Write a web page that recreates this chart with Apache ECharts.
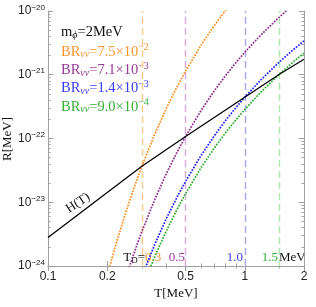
<!DOCTYPE html>
<html><head><meta charset="utf-8">
<script src="https://cdn.jsdelivr.net/npm/echarts@6/dist/echarts.min.js"></script>
<style>html,body{margin:0;padding:0;background:#fff}#c{width:316px;height:307px}</style>
</head><body><div id="c"></div>
<script>
// ---- data ----
const T_H = [0.1, 0.2, 0.3, 0.5, 1.0, 1.5, 2.0];
const R_H = [2.8e-24, 1.42e-23, 3.68e-23, 1.076e-22, 4.44e-22, 1.02e-21, 1.75e-21];

const T_orange = [0.2, 0.22, 0.25, 0.28, 0.3, 0.35, 0.4, 0.45, 0.5, 0.6, 0.7, 0.8, 0.9];
const R_orange = [7.16e-25, 2.04e-24, 7.38e-24, 2.06e-23, 3.68e-23, 1.20e-22, 3.00e-22, 6.24e-22, 1.14e-21, 2.92e-21, 5.92e-21, 1.03e-20, 1.63e-20];

const T_purple = [0.25, 0.28, 0.3, 0.35, 0.4, 0.45, 0.5, 0.6, 0.7, 0.8, 0.9, 1.0, 1.2, 1.5, 1.75];
const R_purple = [6.98e-25, 1.95e-24, 3.48e-24, 1.135e-23, 2.84e-23, 5.90e-23, 1.076e-22, 2.76e-22, 5.60e-22, 9.77e-22, 1.54e-21, 2.25e-21, 4.13e-21, 8.05e-21, 1.23e-20];

const T_blue = [0.3, 0.35, 0.4, 0.45, 0.5, 0.6, 0.7, 0.8, 0.9, 1.0, 1.2, 1.5, 1.75, 2.0];
const R_blue = [6.87e-25, 2.24e-24, 5.60e-24, 1.16e-23, 2.12e-23, 5.44e-23, 1.10e-22, 1.93e-22, 3.03e-22, 4.44e-22, 8.15e-22, 1.59e-21, 2.42e-21, 3.41e-21];

const T_green = [0.3, 0.35, 0.4, 0.45, 0.5, 0.6, 0.7, 0.8, 0.9, 1.0, 1.2, 1.5, 1.75, 2.0];
const R_green = [4.42e-25, 1.44e-24, 3.60e-24, 7.48e-24, 1.365e-23, 3.50e-23, 7.10e-23, 1.24e-22, 1.95e-22, 2.85e-22, 5.24e-22, 1.02e-21, 1.56e-21, 2.19e-21];

const T_D = [0.3, 0.5, 1.0, 1.5];
const T_D_labels = ['0.3', '0.5', '1.0', '1.5'];
const BR_mant = ['7.5', '7.1', '1.4', '9.0'];
const BR_exp = ['−2', '−3', '−3', '−4'];

const xMajor = [0.1, 0.2, 0.5, 1, 2];
const xMinor = [0.3, 0.4, 0.6, 0.7, 0.8, 0.9, 1.5];
const yExps = [-24, -23, -22, -21, -20];

// ---- styling ----
const SERIF = 'Liberation Serif';
const SANS = 'Liberation Sans';
const curveCol = ['#ff8c1a', '#8e2a8e', '#1f1fff', '#2aae2a'];
const textCol = ['#ff9430', '#983a98', '#3a3aff', '#35b035'];
const dashCol = ['#fcc88a', '#dcaadc', '#a6a6f2', '#ace6ac'];
const frameCol = '#a0a0a0';

const yMajor = yExps.map(e => Math.pow(10, e));
const yMinor = [];
for (let e = -24; e < -20; e++) for (let m = 2; m <= 9; m++) yMinor.push(m * Math.pow(10, e));

const zip = (a, b) => a.map((v, i) => [v, b[i]]);

function xAx(pos, ticks, len, showLine, showLabel) {
  return {
    type: 'log', logBase: 10, min: 0.1, max: 2, position: pos, gridIndex: 0,
    axisLine: {show: showLine, lineStyle: {color: frameCol, width: 1}},
    axisTick: {show: true, inside: true, length: len, customValues: ticks, lineStyle: {color: frameCol, width: 1}},
    axisLabel: showLabel ? {show: true, customValues: ticks, margin: 5, fontFamily: SANS, fontSize: 12, color: '#222',
      formatter: v => String(+v.toPrecision(3))} : {show: false},
    splitLine: {show: false}, minorTick: {show: false}
  };
}
function yAx(pos, ticks, len, showLine, showLabel) {
  return {
    type: 'log', logBase: 10, min: 1e-24, max: 1e-20, position: pos, gridIndex: 0,
    axisLine: {show: showLine, lineStyle: {color: frameCol, width: 1}},
    axisTick: {show: true, inside: true, length: len, customValues: ticks, lineStyle: {color: frameCol, width: 1}},
    axisLabel: showLabel ? {show: true, customValues: ticks, margin: 3,
      formatter: v => '{b|10}{s|−' + Math.round(-Math.log10(v)) + '}',
      rich: {b: {fontFamily: SANS, fontSize: 12, color: '#222'},
             s: {fontFamily: SANS, fontSize: 8, color: '#222', padding: [0, 0, 7, 0]}}} : {show: false},
    splitLine: {show: false}, minorTick: {show: false}
  };
}

const curves = [
  {T: T_orange, R: R_orange}, {T: T_purple, R: R_purple},
  {T: T_blue, R: R_blue}, {T: T_green, R: R_green}
];

const series = [];
curves.forEach((c, i) => {
  series.push({
    type: 'line', xAxisIndex: 0, yAxisIndex: 0, data: zip(c.T, c.R), showSymbol: false, smooth: false,
    clip: true, z: 3,
    lineStyle: {color: curveCol[i], width: 1.7, type: [1.7, 1.3]},
    markLine: {silent: true, symbol: ['none', 'none'], label: {show: false}, animation: false, z: 1,
      lineStyle: {color: dashCol[i], width: 1.4, type: [7, 4]}, data: [{xAxis: T_D[i]}]}
  });
});
series.push({
  type: 'line', xAxisIndex: 0, yAxisIndex: 0, data: zip(T_H, R_H), showSymbol: false, smooth: false, z: 4,
  lineStyle: {color: '#000', width: 1.3}
});

const legendRich = {
  t: {fontFamily: SERIF, fontSize: 14.5},
  sub: {fontFamily: SERIF, fontSize: 10, fontStyle: 'italic', padding: [6, 0, 0, 0]},
  sup: {fontFamily: SERIF, fontSize: 10, padding: [0, 0, 8, 0]}
};
const smallRich = {
  t: {fontFamily: SERIF, fontSize: 13},
  sub: {fontFamily: SERIF, fontSize: 9, padding: [6, 0, 0, 0]}
};
function richFill(base, col) {
  const r = {};
  for (const k in base) r[k] = Object.assign({fill: col}, base[k]);
  return r;
}

const graphics = [];
graphics.push({type: 'text', x: 61, y: 32, style: {text: '{t|m}{sub|ϕ}{t|=2MeV}', rich: richFill(legendRich, '#111'), verticalAlign: 'middle', align: 'left'}});
const legY = [51.7, 70, 88.3, 106.7];
for (let i = 0; i < 4; i++) {
  graphics.push({type: 'text', x: 61, y: legY[i], style: {
    text: '{t|BR}{sub|νν}{t|=' + BR_mant[i] + '×10}{sup|' + BR_exp[i] + '}',
    rich: richFill(legendRich, textCol[i]), verticalAlign: 'middle', align: 'left'}});
}
// H(T) label
graphics.push({type: 'text', x: 78, y: 203, rotation: 0.58, style: {text: 'H(T)', font: '13px ' + SERIF, fill: '#111', align: 'center', verticalAlign: 'middle'}});
// T_D labels
graphics.push({type: 'text', x: 145, y: 258, style: {text: '{t|T}{sub|D}{t|=}', rich: richFill(smallRich, '#111'), align: 'right', verticalAlign: 'middle'}});
graphics.push({type: 'text', x: 145, y: 258, style: {text: T_D_labels[0], font: '13px ' + SERIF, fill: textCol[0], align: 'left', verticalAlign: 'middle'}});
const tdRight = [185, 243, 278];
for (let i = 1; i < 4; i++) {
  graphics.push({type: 'text', x: tdRight[i - 1], y: 258, style: {text: T_D_labels[i], font: '13px ' + SERIF, fill: textCol[i], align: 'right', verticalAlign: 'middle'}});
}
graphics.push({type: 'text', x: 279, y: 258, style: {text: 'MeV', font: '13px ' + SERIF, fill: '#111', align: 'left', verticalAlign: 'middle'}});
// axis titles
graphics.push({type: 'text', x: 176, y: 294, style: {text: 'T[MeV]', font: '13px ' + SERIF, fill: '#111', align: 'center', verticalAlign: 'middle'}});
graphics.push({type: 'text', x: 8, y: 139, rotation: Math.PI / 2, style: {text: 'R[MeV]', font: '13px ' + SERIF, fill: '#111', align: 'center', verticalAlign: 'middle'}});

const chart = echarts.init(document.getElementById('c'), null, {renderer: 'canvas'});
chart.setOption({
  animation: false,
  backgroundColor: '#fff',
  grid: {left: 48, right: 12, top: 11, bottom: 41, containLabel: false},
  xAxis: [xAx('bottom', xMajor, 5, true, true), xAx('bottom', xMinor, 2.5, false, false),
          xAx('top', xMajor, 5, true, false), xAx('top', xMinor, 2.5, false, false)],
  yAxis: [yAx('left', yMajor, 5, true, true), yAx('left', yMinor, 2.5, false, false),
          yAx('right', yMajor, 5, true, false), yAx('right', yMinor, 2.5, false, false)],
  series: series,
  graphic: graphics
});
</script></body></html>
